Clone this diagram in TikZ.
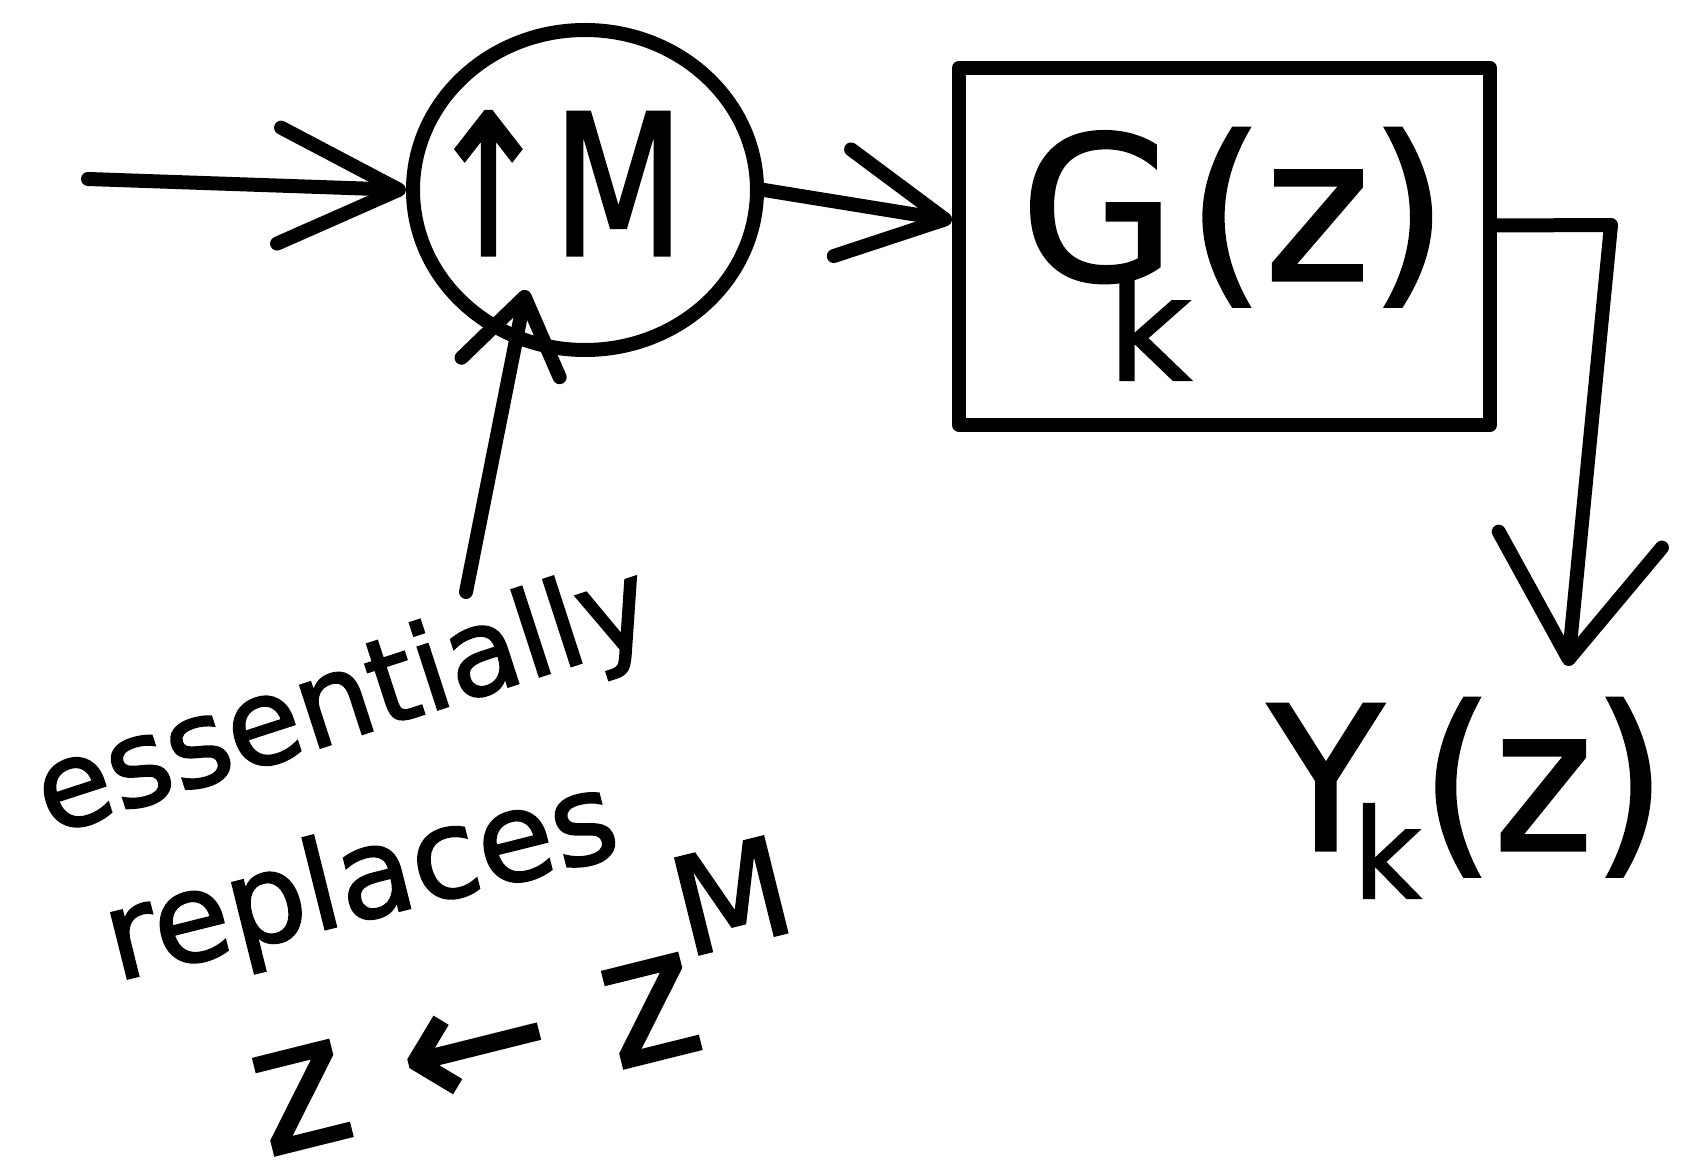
\documentclass[tikz,border=0pt]{standalone}
\usepackage{fontspec}
\setmainfont{DejaVu Sans}[FakeBold=1.6]
\usetikzlibrary{arrows.meta,shapes.geometric,calc}
\newcommand{\myfs}[1]{\fontsize{#1}{#1}\selectfont}
\begin{document}
\begin{tikzpicture}[x=0.5pt,y=-0.5pt,
  stroke/.style={line width=7pt, line cap=round, line join=round},
  tipIn/.style={-{Straight Barb[length=60pt,width=58pt,round]}},
  tipMid/.style={-{Straight Barb[length=52pt,width=54pt,round]}},
  tipOut/.style={-{Straight Barb[length=60pt,width=82pt,round]}},
  tipUp/.style={-{Straight Barb[length=36pt,width=50pt,round]}},
  txt/.style={inner sep=0pt, text=black}]
\fill[white] (0,0) rectangle (1684,1176);
\useasboundingbox (0,0) rectangle (1684,1176);

% blocks
\node[stroke, draw, ellipse, minimum width=172pt, minimum height=160pt, inner sep=0pt] (circ) at (585,190) {};
\node[stroke, draw, rectangle, minimum width=265.5pt, minimum height=178.5pt, inner sep=0pt] (box) at (1224.5,246.5) {};

% labels
\node[txt, anchor=base west] (upm) at (424,255) {\myfs{98}\scalebox{0.78}[1]{↑M}};
\node[txt, anchor=base west] (gk) at (1020,280) {\myfs{100}G\kern-34pt\raisebox{-50pt}{\myfs{72}k}\kern-2pt(z)};
\node[txt, anchor=base west] (yk) at (1268,850) {\myfs{100}\scalebox{0.94}[1]{Y\kern-16pt\raisebox{-24pt}{\myfs{62}k}(z)}};
\node[txt, rotate=18] (ess) at (345,705) {\myfs{60}essentially};
\node[txt, rotate=14] (rep) at (362,885) {\myfs{62}replaces};
\node[txt, rotate=14] (zz) at (522,995) {\myfs{90}z ← z\raisebox{46pt}{\myfs{68}M}};

% coordinates
\coordinate (inStart) at (88,179);
\coordinate (outCorner) at (1611,225);
\coordinate (outTip) at (1568,666);
\coordinate (upStart) at (466,592);
\coordinate (upTip) at (526,290);

% connectors
\draw[stroke, tipIn] (inStart) -- (circ.west);
\draw[stroke, tipMid] (circ.east) -- ($(box.west)+(0,-26)$);
\draw[stroke, tipOut] ($(box.east)+(0,-21)$) -- (outCorner) -- (outTip);
\draw[stroke, tipUp] (upStart) -- (upTip);
\end{tikzpicture}
\end{document}
